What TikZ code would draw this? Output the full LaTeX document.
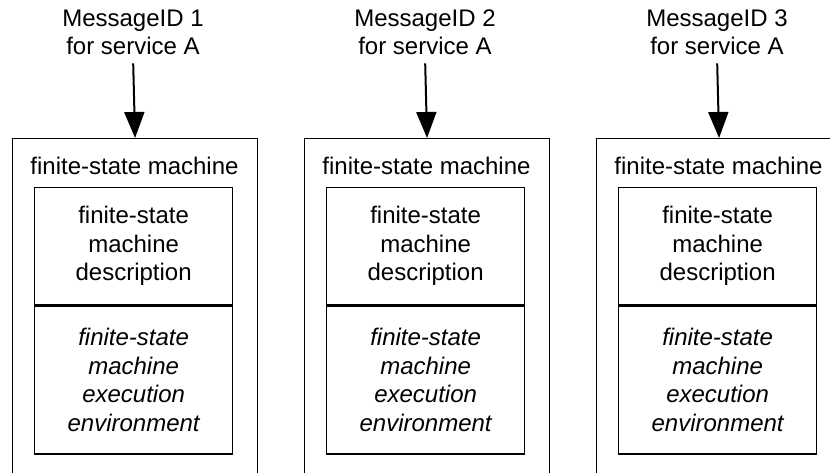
\documentclass[tikz,border=0pt]{standalone}
\usepackage{fontspec}
\setmainfont{Liberation Sans}
\usetikzlibrary{arrows.meta}
\begin{document}
\begin{tikzpicture}[x=1pt,y=-1pt,
  txt/.style={font=\fontsize{24}{28.5}\selectfont, align=center, inner sep=0pt},
  outerbox/.style={draw, line width=1.1pt, minimum width=245pt, minimum height=345pt, anchor=north west, inner sep=0pt},
  descbox/.style={draw, line width=1.3pt, minimum width=198pt, minimum height=117pt, txt},
  envbox/.style={draw, line width=1.3pt, minimum width=198pt, minimum height=148pt, txt, font=\fontsize{24}{28.5}\selectfont\itshape},
  arr/.style={line width=2pt, -{Triangle[length=26pt,width=20pt]}, shorten <=8pt}]
\useasboundingbox (0,0) rectangle (830,473);
\clip (0,0) rectangle (830,473);
\foreach \i/\x in {1/12,2/304,3/596} {
  \node[outerbox] (o\i) at (\x,138) {};
  \node[txt, anchor=base] (t\i) at (\x+122.5,175) {finite-state machine};
  \node[descbox, anchor=north west] (d\i) at (\x+22,187) {finite-state\\machine\\description};
  \node[envbox, anchor=north] (e\i) at (d\i.south) {finite-state\\machine\\execution\\environment};
  \node[txt, anchor=base] (m\i) at (\x+121,55) {MessageID \i\\for service A};
  \draw[arr] (m\i.south) -- (o\i.north);
}
\end{tikzpicture}
\end{document}
